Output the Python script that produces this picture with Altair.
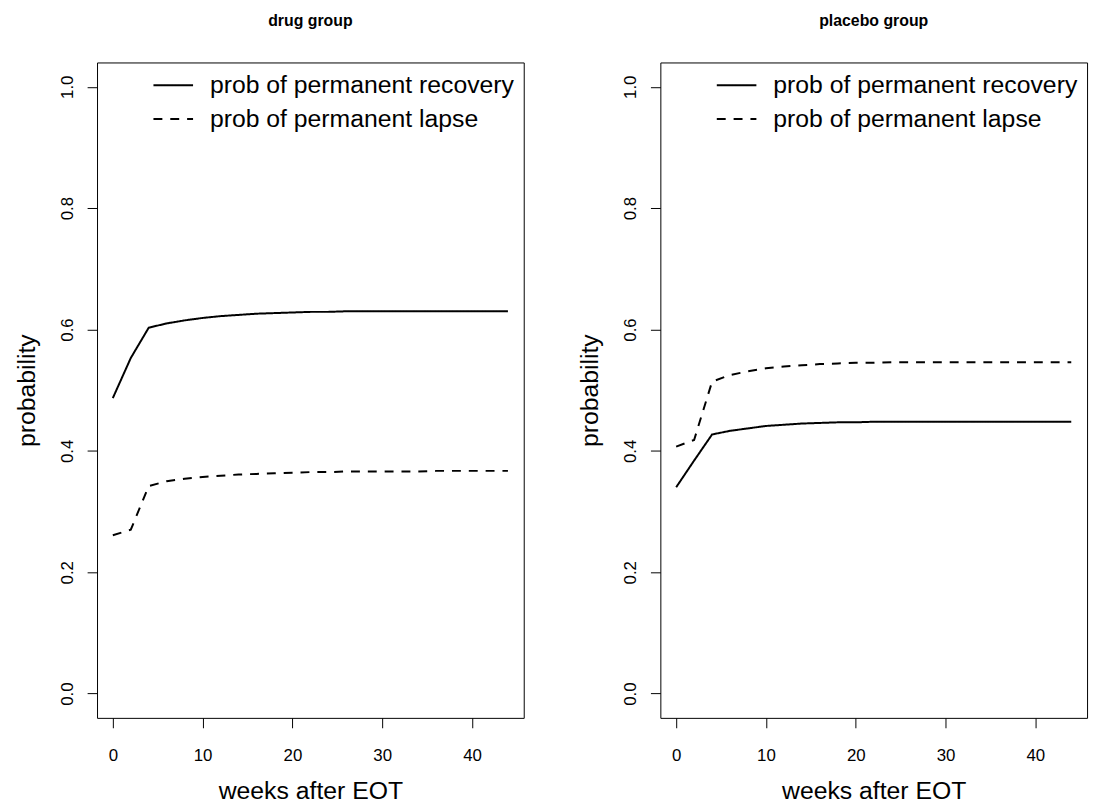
import altair as alt
import pandas as pd

weeks = list(range(0, 45, 2))

drug_recovery = [0.487, 0.553, 0.603, 0.610, 0.615, 0.619, 0.622, 0.624, 0.626, 0.627,
                 0.628, 0.629, 0.629, 0.630, 0.630, 0.630, 0.630, 0.630, 0.630, 0.630,
                 0.630, 0.630, 0.630]
drug_lapse = [0.261, 0.270, 0.342, 0.350, 0.354, 0.357, 0.359, 0.361, 0.362, 0.363,
              0.364, 0.365, 0.365, 0.366, 0.366, 0.366, 0.366, 0.366, 0.367, 0.367,
              0.367, 0.367, 0.367]
placebo_recovery = [0.340, 0.384, 0.427, 0.433, 0.437, 0.441, 0.443, 0.445, 0.446, 0.447,
                    0.447, 0.448, 0.448, 0.448, 0.448, 0.448, 0.448, 0.448, 0.448, 0.448,
                    0.448, 0.448, 0.448]
placebo_lapse = [0.407, 0.418, 0.514, 0.525, 0.531, 0.536, 0.539, 0.541, 0.543, 0.544,
                 0.545, 0.545, 0.546, 0.546, 0.546, 0.546, 0.546, 0.546, 0.546, 0.546,
                 0.546, 0.546, 0.546]

series_names = ["prob of permanent recovery", "prob of permanent lapse"]
x_ticks = [0, 10, 20, 30, 40]
y_ticks = [0.0, 0.2, 0.4, 0.6, 0.8, 1.0]
FONT = "Liberation Sans"


def panel(title, recovery, lapse):
    rows = []
    for w, r in zip(weeks, recovery):
        rows.append({"weeks": w, "prob": r, "series": series_names[0]})
    for w, l in zip(weeks, lapse):
        rows.append({"weeks": w, "prob": l, "series": series_names[1]})
    df = pd.DataFrame(rows)
    return alt.Chart(df, title=alt.Title(
        title, fontSize=16, fontWeight="bold", font=FONT, anchor="middle",
        frame="group", baseline="alphabetic", offset=21, color="black",
    )).mark_line(color="black", strokeWidth=2).encode(
        x=alt.X("weeks:Q",
                scale=alt.Scale(domain=[-1.76, 45.76], nice=False, zero=False),
                axis=alt.Axis(values=x_ticks, format="d", labelAngle=0,
                              labelPadding=20, tickSize=10, domain=False, grid=False,
                              labelFontSize=17, labelFont=FONT, labelColor="black",
                              tickColor="black", title="weeks after EOT",
                              titleFontSize=25, titleFont=FONT,
                              titleFontWeight="normal", titleColor="black",
                              titleBaseline="alphabetic", titleY=81)),
        y=alt.Y("prob:Q",
                scale=alt.Scale(domain=[-0.04, 1.04], nice=False, zero=False),
                axis=alt.Axis(values=y_ticks, format=".1f", labelAngle=270,
                              labelAlign="center", labelBaseline="alphabetic",
                              labelPadding=15, tickSize=10, domain=False, grid=False,
                              labelFontSize=17, labelFont=FONT, labelColor="black",
                              tickColor="black", title="probability",
                              titleFontSize=25, titleFont=FONT,
                              titleFontWeight="normal", titleColor="black",
                              titleAngle=270, titleAlign="center",
                              titleBaseline="alphabetic", titleX=-63, titleY=331)),
        strokeDash=alt.StrokeDash(
            "series:N",
            scale=alt.Scale(domain=series_names, range=[[1, 0], [9, 8]]),
            legend=alt.Legend(orient="none", legendX=56, legendY=2, title=None,
                              symbolType="stroke", symbolSize=1600,
                              symbolStrokeWidth=2, symbolStrokeColor="black",
                              labelFontSize=25, labelFont=FONT, labelColor="black",
                              labelOffset=16, padding=0, rowPadding=-4,
                              labelLimit=0),
        ),
        order=alt.Order("weeks:Q"),
    ).properties(width=431, height=662)


left = panel("drug group", drug_recovery, drug_lapse)
right = panel("placebo group", placebo_recovery, placebo_lapse)

chart = alt.hconcat(left, right, spacing=53).resolve_legend(
    strokeDash="independent"
).resolve_scale(strokeDash="independent").configure_view(
    stroke="black", strokeWidth=1
).properties(
    padding={"left": 14, "top": 8, "right": 5, "bottom": 5},
    background="white",
)

chart.save("out.html", embed_options={"renderer": "svg", "actions": False})
